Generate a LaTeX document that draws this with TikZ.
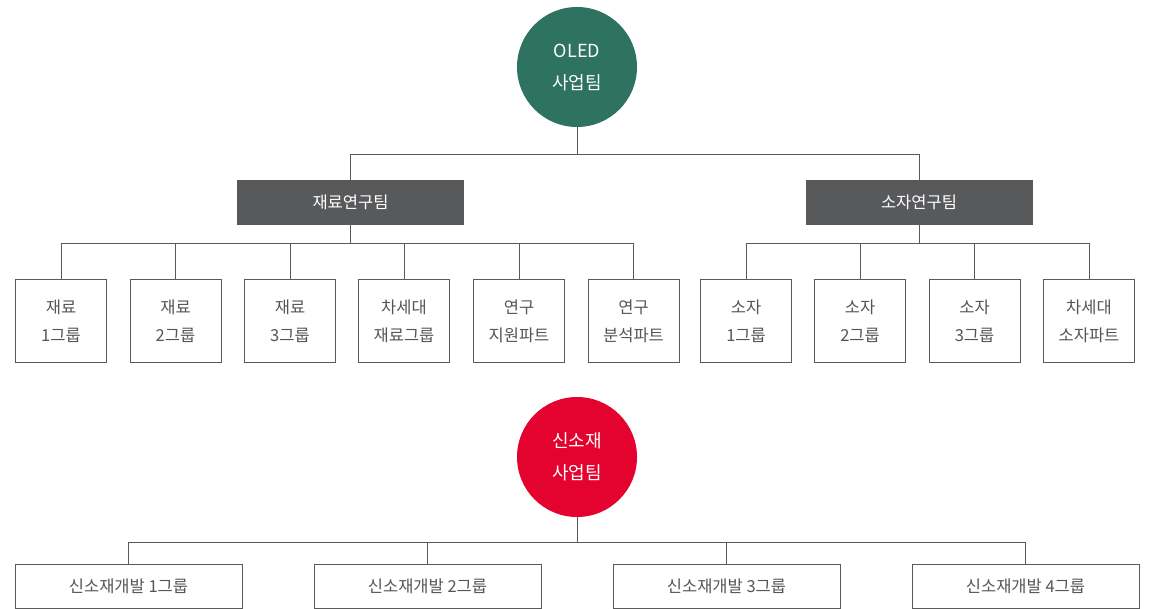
\documentclass[tikz,border=0pt]{standalone}
\usepackage{fontspec}
\setmainfont{Noto Sans CJK KR}
\definecolor{oledgreen}{HTML}{2E7260}
\definecolor{newred}{HTML}{E4032E}
\definecolor{teamgray}{HTML}{58595B}
\definecolor{linegray}{HTML}{5A5A5A}
\definecolor{textgray}{HTML}{555555}
\tikzset{
  division/.style={circle, minimum size=120pt, inner sep=0pt, text=white,
    align=center, font=\fontsize{18}{32}\selectfont},
  team/.style={fill=teamgray, minimum width=227pt, minimum height=45pt,
    inner sep=0pt, text=white, font=\fontsize{16.5}{20}\selectfont},
  group/.style={draw=linegray, line width=1pt, minimum width=91pt,
    minimum height=82pt, inner sep=0pt, text=textgray, align=center,
    font=\fontsize{16.5}{28}\selectfont},
  widegroup/.style={draw=linegray, line width=1pt, minimum width=227pt,
    minimum height=44pt, inner sep=0pt, text=textgray,
    font=\fontsize{16.5}{20}\selectfont},
}
\begin{document}
\begin{tikzpicture}[x=1pt, y=-1pt]
      \useasboundingbox (0,0) rectangle (1153,609);
      \node[division, fill=oledgreen] (oled) at (577,67) {OLED\\사업팀};
      \node[team] (mat) at (350.5,202.5) {재료연구팀};
      \node[team] (dev) at (919,202.5) {소자연구팀};
      \draw
        (61,321) node[group] (m1){재료\\1그룹}
        (175.5,321) node[group] (m2){재료\\2그룹}
        (290,321) node[group] (m3){재료\\3그룹}
        (404,321) node[group] (m4){차세대\\재료그룹}
        (519,321) node[group] (m5){연구\\지원파트}
        (633.5,321) node[group] (m6){연구\\분석파트}
        (746,321) node[group] (d1){소자\\1그룹}
        (860,321) node[group] (d2){소자\\2그룹}
        (974.5,321) node[group] (d3){소자\\3그룹}
        (1089,321) node[group] (d4){차세대\\소자파트};
      \node[division, fill=newred] (new) at (577,457) {신소재\\사업팀};
      \draw
        (128.5,586) node[widegroup] (n1){신소재개발 1그룹}
        (427.5,586) node[widegroup] (n2){신소재개발 2그룹}
        (726.5,586) node[widegroup] (n3){신소재개발 3그룹}
        (1025.5,586) node[widegroup] (n4){신소재개발 4그룹};
      \begin{scope}[draw=linegray, line width=1pt]
        \draw (oled.south) -- ++(0,27) -| (mat.north);
        \draw (oled.south) -- ++(0,27) -| (dev.north);
        \foreach \g in {m1,m2,m3,m4,m5,m6}
          \draw (mat.south) -- ++(0,18) -| (\g.north);
        \foreach \g in {d1,d2,d3,d4}
          \draw (dev.south) -- ++(0,18) -| (\g.north);
        \foreach \g in {n1,n2,n3,n4}
          \draw (new.south) -- ++(0,25) -| (\g.north);
      \end{scope}
    \end{tikzpicture}
\end{document}
